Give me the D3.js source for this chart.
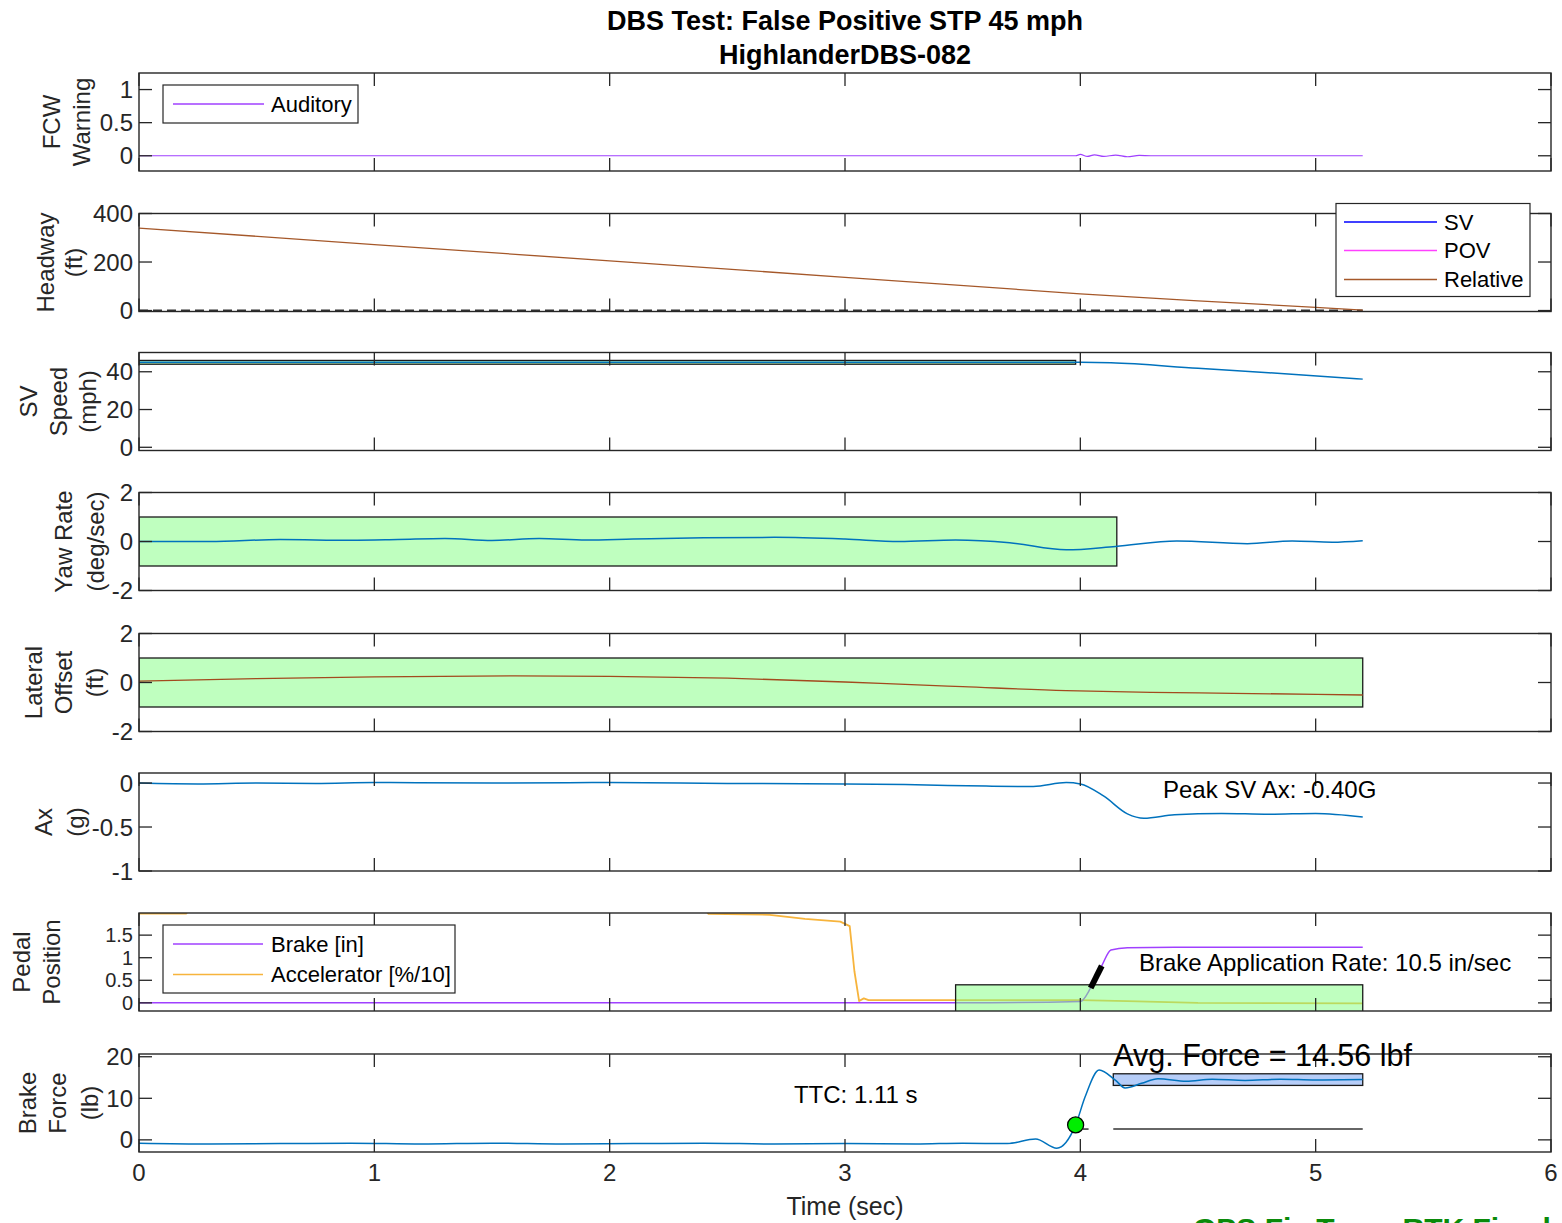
<!DOCTYPE html>
<html>
<head>
<meta charset="utf-8">
<script src="https://cdn.jsdelivr.net/npm/d3@7"></script>
<style>
  body { margin: 0; background: #fff; }
  svg { display: block; }
  text { font-family: "Liberation Sans", Arial, Helvetica, sans-serif; }
</style>
</head>
<body>
<svg id="chart" width="1562" height="1223"></svg>
<script>
// ---------- data ----------
const timeTicks = [0, 1, 2, 3, 4, 5, 6];

// FCW warning (auditory)
const fcwTime     = [0, 0.5, 1, 1.5, 2, 2.5, 3, 3.5, 3.98, 4.0, 4.03, 4.06, 4.1, 4.15, 4.2, 4.25, 4.3, 4.6, 5.0, 5.2];
const fcwAuditory = [0, 0, 0, 0, 0, 0, 0, 0, 0, 0.02, -0.01, 0.015, -0.01, 0.01, -0.015, 0.005, 0, 0, 0, 0];

// Headway (ft)
const headwayTime     = [0, 1, 2, 3, 4, 4.5, 5, 5.2];
const headwayRelative = [340, 272, 205, 137, 69, 40, 13, 2];
const headwayZeroTime = [0, 5.2];
const headwayZero     = [0, 0];

// SV speed (mph)
const speedTime  = [0, 1, 2, 3, 4, 4.13, 4.5, 4.8, 5.2];
const speedValue = [45.1, 45.1, 45.1, 45.1, 45.0, 44.8, 41.8, 39.5, 36.1];
const speedBand  = { t: [0, 3.98], v: [44, 46] };

// Yaw rate (deg/sec)
const yawTime  = [0, 0.3, 0.6, 0.9, 1.1, 1.3, 1.5, 1.7, 1.9, 2.1, 2.4, 2.7, 3.0, 3.23, 3.47, 3.7, 3.94, 4.15, 4.41, 4.71, 4.9, 5.07, 5.2];
const yawValue = [0, 0, 0.08, 0.05, 0.08, 0.12, 0.04, 0.12, 0.06, 0.1, 0.15, 0.17, 0.1, 0.0, 0.06, -0.05, -0.34, -0.2, 0.02, -0.09, 0.02, -0.03, 0.03];
const yawBand  = { t: [0, 4.155], v: [-1, 1] };

// Lateral offset (ft)
const latTime  = [0, 0.5, 1, 1.6, 2, 2.5, 3, 3.23, 3.5, 3.94, 4.3, 4.65, 5.2];
const latValue = [0.06, 0.16, 0.23, 0.27, 0.25, 0.18, 0.02, -0.07, -0.17, -0.33, -0.4, -0.44, -0.51];
const latBand  = { t: [0, 5.2], v: [-1, 1] };

// Longitudinal acceleration (g)
const axTime  = [0, 0.25, 0.5, 0.75, 1, 1.5, 2, 2.5, 3, 3.3, 3.6, 3.8, 3.94, 4.0, 4.1, 4.2, 4.27, 4.4, 4.6, 4.8, 5.0, 5.2];
const axValue = [0.0, -0.01, 0.0, -0.005, 0.005, 0.0, 0.005, -0.005, -0.01, -0.02, -0.035, -0.04, 0.005, -0.01, -0.15, -0.35, -0.40, -0.36, -0.345, -0.355, -0.345, -0.385];
const axPeak  = -0.40;

// Pedal position
const brakeTime  = [0, 1, 2, 3, 3.5, 4.0, 4.044, 4.091, 4.13, 4.2, 4.4, 4.8, 5.2];
const brakeValue = [0, 0, 0, 0, 0, 0.03, 0.33, 0.82, 1.17, 1.22, 1.23, 1.23, 1.23];
const accelTime  = [0, 0.2, 0.22, 2.4, 2.42, 2.68, 2.83, 2.98, 3.02, 3.04, 3.06, 3.08, 3.1, 3.5, 4.0, 4.2, 4.5, 5.2];
const accelValue = [1.975, 1.975, 2.1, 2.1, 1.97, 1.95, 1.86, 1.8, 1.7, 0.7, 0.04, 0.1, 0.06, 0.06, 0.06, 0.04, 0.0, -0.01];
const brakeRateTime  = [4.044, 4.091];
const brakeRateValue = [0.33, 0.82];
const brakeRate = 10.5;
const pedalBand = { t: [3.47, 5.2], v: [-0.3, 0.4] };

// Brake force (lb)
const forceTime  = [0, 0.3, 0.6, 0.9, 1.2, 1.5, 1.8, 2.1, 2.4, 2.7, 3.0, 3.3, 3.5, 3.69, 3.81, 3.90, 3.98, 4.02, 4.08, 4.15, 4.19, 4.26, 4.33, 4.45, 4.56, 4.7, 4.85, 5.0, 5.2];
const forceValue = [-0.8, -1.0, -0.9, -0.8, -1.0, -0.8, -1.0, -0.9, -0.8, -1.0, -0.9, -1.0, -0.8, -0.9, 0.2, -2.0, 3.6, 10.3, 16.8, 14.3, 12.5, 13.6, 14.7, 14.1, 14.6, 14.3, 14.6, 14.4, 14.5];
const forceOnset = { t: 3.98, v: 3.6 };
const forceBand  = { t: [4.14, 5.2], v: [13.1, 15.9] };
const forceRefTime = [4.14, 5.2];
const forceRef     = [2.6, 2.6];
const avgForce = 14.56;
const ttc = 1.11;

// ---------- layout ----------
const svg = d3.select("#chart");
const left = 139, right = 1551, panelH = 98;
const panelTops = [73, 213.5, 352.5, 492.5, 633.5, 773, 913, 1054];
const axisColor = "#262626";
const mBlue = "#0072BD";
const bandGreen = "#bfffbf";

const x = d3.scaleLinear().domain([0, 6]).range([left, right]);

const panels = [
  { domain: [-0.23, 1.25], ticks: [0, 0.5, 1], label: ["FCW", "Warning"], labelX: [51, 81], tickFont: 24 },
  { domain: [-4, 400], ticks: [0, 200, 400], label: ["Headway", "(ft)"], labelX: [45, 73], tickFont: 24 },
  { domain: [-1.7, 50.2], ticks: [0, 20, 40], label: ["SV", "Speed", "(mph)"], labelX: [28, 58, 87], tickFont: 24 },
  { domain: [-2, 2], ticks: [-2, 0, 2], label: ["Yaw Rate", "(deg/sec)"], labelX: [63, 95], tickFont: 24 },
  { domain: [-2, 2], ticks: [-2, 0, 2], label: ["Lateral", "Offset", "(ft)"], labelX: [33, 63, 94], tickFont: 24 },
  { domain: [-1, 0.114], ticks: [-1, -0.5, 0], label: ["Ax", "(g)"], labelX: [43, 75], tickFont: 24 },
  { domain: [-0.18, 1.99], ticks: [0, 0.5, 1, 1.5], label: ["Pedal", "Position"], labelX: [21, 51], tickFont: 20 },
  { domain: [-2.92, 20.66], ticks: [0, 10, 20], label: ["Brake", "Force", "(lb)"], labelX: [27, 57, 89], tickFont: 24 }
];

const defs = svg.append("defs");
panels.forEach((p, i) => {
  p.top = panelTops[i];
  p.y = d3.scaleLinear().domain(p.domain).range([p.top + panelH, p.top]);
  defs.append("clipPath").attr("id", "clip" + i)
    .append("rect").attr("x", left).attr("y", p.top).attr("width", right - left).attr("height", panelH);
  p.g = svg.append("g");
  p.data = p.g.append("g").attr("clip-path", `url(#clip${i})`);
});

const pts = (ts, vs) => ts.map((t, i) => [t, vs[i]]);
function drawLine(p, ts, vs, color, width, opts = {}) {
  const line = d3.line().x(d => x(d[0])).y(d => p.y(d[1]))
    .curve(opts.linear ? d3.curveLinear : d3.curveMonotoneX);
  const path = p.data.append("path").datum(pts(ts, vs))
    .attr("d", line).attr("fill", "none")
    .attr("stroke", color).attr("stroke-width", width)
    .attr("stroke-linejoin", "round");
  if (opts.dash) path.attr("stroke-dasharray", opts.dash);
  return path;
}
function drawBand(p, band, fill, opacity) {
  const y0 = p.y(band.v[1]), y1 = p.y(band.v[0]);
  p.data.append("rect")
    .attr("x", x(band.t[0])).attr("y", y0)
    .attr("width", x(band.t[1]) - x(band.t[0])).attr("height", y1 - y0)
    .attr("fill", fill).attr("fill-opacity", opacity)
    .attr("stroke", "#1a1a1a").attr("stroke-width", 1.3);
}

// ---------- series ----------
const [pF, pH, pS, pY, pL, pA, pP, pB] = panels;

drawLine(pF, fcwTime, fcwAuditory, "#a040ff", 1.2);

drawLine(pH, headwayZeroTime, headwayZero, "#333", 2, { linear: true, dash: "9,5" });
drawLine(pH, headwayTime, headwayRelative, "#a5582a", 1.3, { linear: true });

drawBand(pS, speedBand, bandGreen, 1);
drawLine(pS, speedTime, speedValue, mBlue, 1.5);

drawBand(pY, yawBand, bandGreen, 1);
drawLine(pY, yawTime, yawValue, mBlue, 1.5);

drawBand(pL, latBand, bandGreen, 1);
drawLine(pL, latTime, latValue, "#a34a1e", 1.3);

drawLine(pA, axTime, axValue, mBlue, 1.5);

drawLine(pP, accelTime, accelValue, "#f7b43c", 1.8, { linear: true });
drawLine(pP, brakeTime, brakeValue, "#a040ff", 1.5);
drawBand(pP, pedalBand, "#80ff80", 0.5);
drawLine(pP, brakeRateTime, brakeRateValue, "#000", 6, { linear: true }).attr("stroke-linecap", "butt");

drawBand(pB, forceBand, "#9dbcf5", 0.75);
drawLine(pB, forceTime, forceValue, mBlue, 1.5);
drawLine(pB, forceRefTime, forceRef, "#333", 1.5, { linear: true });
drawLine(pB, [4.01, 4.035], forceRef, "#333", 1.5, { linear: true });
pB.data.append("circle")
  .attr("cx", x(forceOnset.t)).attr("cy", pB.y(forceOnset.v)).attr("r", 8)
  .attr("fill", "#00ee00").attr("stroke", "#000").attr("stroke-width", 1.3);

// ---------- axes ----------
const tickLen = 13;
const xt = timeTicks;
panels.forEach((p, i) => {
  const g = p.g;
  const bottom = p.top + panelH;
  // x ticks (top and bottom, inward)
  xt.forEach(t => {
    g.append("line").attr("x1", x(t)).attr("x2", x(t)).attr("y1", p.top).attr("y2", p.top + tickLen)
      .attr("stroke", axisColor).attr("stroke-width", 1.3);
    g.append("line").attr("x1", x(t)).attr("x2", x(t)).attr("y1", bottom).attr("y2", bottom - tickLen)
      .attr("stroke", axisColor).attr("stroke-width", 1.3);
  });
  // y ticks (left and right, inward) with labels
  p.ticks.forEach(v => {
    const yy = p.y(v);
    g.append("line").attr("x1", left).attr("x2", left + tickLen).attr("y1", yy).attr("y2", yy)
      .attr("stroke", axisColor).attr("stroke-width", 1.3);
    g.append("line").attr("x1", right).attr("x2", right - tickLen).attr("y1", yy).attr("y2", yy)
      .attr("stroke", axisColor).attr("stroke-width", 1.3);
    g.append("text").attr("x", left - 6).attr("y", yy)
      .attr("text-anchor", "end").attr("dominant-baseline", "central")
      .attr("font-size", p.tickFont).attr("fill", axisColor).text(String(v));
  });
  // frame
  g.append("rect").attr("x", left).attr("y", p.top).attr("width", right - left).attr("height", panelH)
    .attr("fill", "none").attr("stroke", axisColor).attr("stroke-width", 1.4);
  // y label (rotated, multi-line)
  const cy = p.top + panelH / 2;
  p.label.forEach((s, k) => {
    g.append("text")
      .attr("transform", `translate(${p.labelX[k]},${cy}) rotate(-90)`)
      .attr("text-anchor", "middle").attr("dominant-baseline", "central")
      .attr("font-size", 24).attr("fill", axisColor).text(s);
  });
});

// x tick labels and axis title on the bottom panel
xt.forEach(t => {
  svg.append("text").attr("x", x(t)).attr("y", 1172)
    .attr("text-anchor", "middle").attr("dominant-baseline", "central")
    .attr("font-size", 24).attr("fill", axisColor).text(String(t));
});
svg.append("text").attr("x", x(3)).attr("y", 1206)
  .attr("text-anchor", "middle").attr("dominant-baseline", "central")
  .attr("font-size", 25).attr("fill", axisColor).text("Time (sec)");

// ---------- legends ----------
function legend(x0, y0, w, h, items, lineX0, lineX1, textX) {
  const g = svg.append("g");
  g.append("rect").attr("x", x0).attr("y", y0).attr("width", w).attr("height", h)
    .attr("fill", "#fff").attr("stroke", "#262626").attr("stroke-width", 1.2);
  items.forEach(it => {
    g.append("line").attr("x1", lineX0).attr("x2", lineX1).attr("y1", it.y).attr("y2", it.y)
      .attr("stroke", it.color).attr("stroke-width", 1.5);
    g.append("text").attr("x", textX).attr("y", it.y).attr("dominant-baseline", "central")
      .attr("font-size", 22).attr("fill", "#000").text(it.name);
  });
}
legend(163, 85, 195, 38, [{ name: "Auditory", color: "#a040ff", y: 104 }], 173, 264, 271);
legend(1336, 203.5, 194, 93, [
  { name: "SV", color: "#0000ff", y: 222 },
  { name: "POV", color: "#ff40ff", y: 250.5 },
  { name: "Relative", color: "#a5582a", y: 279.5 }
], 1344, 1437, 1444);
legend(163, 925, 292, 68, [
  { name: "Brake [in]", color: "#a040ff", y: 944 },
  { name: "Accelerator [%/10]", color: "#f7b43c", y: 974.5 }
], 173, 263, 271);

// ---------- annotations ----------
svg.append("text").attr("x", x(4.351)).attr("y", pA.y(-0.17))
  .attr("font-size", 24).attr("fill", "#000").text(`Peak SV Ax: ${axPeak.toFixed(2)}G`);
svg.append("text").attr("x", x(4.249)).attr("y", pP.y(0.70))
  .attr("font-size", 24).attr("fill", "#000").text(`Brake Application Rate: ${brakeRate} in/sec`);
svg.append("text").attr("x", x(2.783)).attr("y", pB.y(8.75))
  .attr("font-size", 24).attr("fill", "#000").text(`TTC: ${ttc.toFixed(2)} s`);
svg.append("text").attr("x", x(4.14)).attr("y", pB.y(17.7))
  .attr("font-size", 30.5).attr("fill", "#000").text(`Avg. Force = ${avgForce.toFixed(2)} lbf`);

// ---------- titles ----------
svg.append("text").attr("x", x(3)).attr("y", 30).attr("text-anchor", "middle")
  .attr("font-size", 27).attr("font-weight", "bold").attr("fill", "#000")
  .text("DBS Test: False Positive STP 45 mph");
svg.append("text").attr("x", x(3)).attr("y", 64).attr("text-anchor", "middle")
  .attr("font-size", 27).attr("font-weight", "bold").attr("fill", "#000")
  .text("HighlanderDBS-082");

svg.append("text").attr("x", 1193).attr("y", 1239)
  .attr("font-size", 30).attr("font-weight", "bold").attr("fill", "#0a8a0a")
  .text("GPS Fix Type: RTK Fixed");
</script>
</body>
</html>
